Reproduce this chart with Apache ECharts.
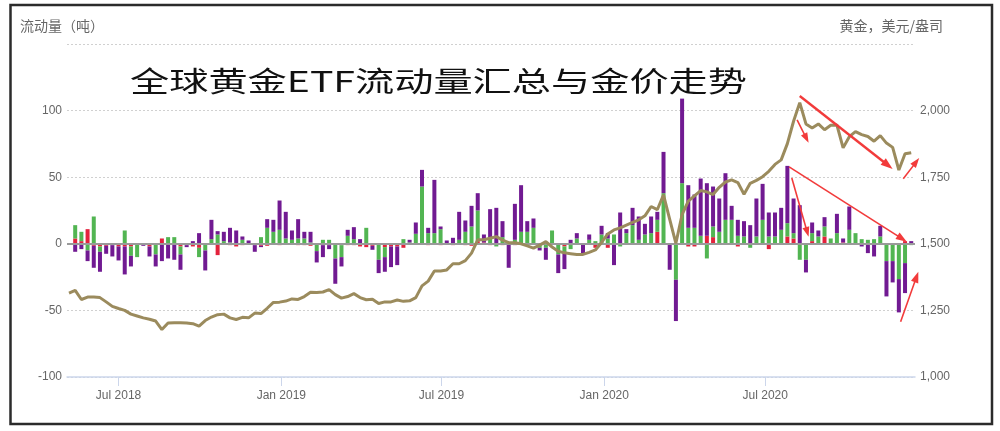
<!DOCTYPE html>
<html><head><meta charset="utf-8">
<script src="https://cdn.jsdelivr.net/npm/echarts@6/dist/echarts.min.js"></script>
<style>html,body{margin:0;padding:0;background:#fff}#c{width:1000px;height:431px}</style>
</head><body><div id="c"></div>
<script>
// ---------- data ----------
const firstWeek = '2018-05-06';      // first gold-price week; bars start one week later
const weekCount = 137;

// gold price, USD/oz (weekly)
const gold = [1315,1325,1291,1300,1300,1298,1282,1265,1257,1250,1236,1229,1222,1217,1210,1178,1203,1204,1204,1203,
  1200,1191,1212,1225,1234,1236,1222,1216,1224,1222,1240,1238,1258,1280,1281,1285,1293,1291,1302,1318,
  1317,1319,1328,1309,1296,1302,1313,1298,1290,1292,1276,1282,1282,1289,1284,1286,1298,1342,1360,1398,
  1398,1402,1425,1425,1437,1465,1515,1515,1521,1527,1514,1504,1504,1500,1492,1484,1495,1508,1488,1472,
  1466,1463,1460,1460,1468,1477,1505,1537,1552,1560,1570,1580,1590,1605,1640,1628,1684,1592,1502,1610,
  1660,1680,1700,1695,1685,1712,1732,1740,1730,1686,1727,1738,1752,1772,1798,1815,1876,1960,2030,1950,
  1935,1950,1928,1945,1946,1860,1902,1921,1910,1903,1885,1906,1878,1862,1777,1838,1842];

// ETF flows, tonnes (weekly, 136 weeks)
const flowPurple = [-6,-4,-8,-16.5,-15,-6,-8.5,-10.5,-21,-8,0.5,-1.5,-7.5,-9,-13,-11,-12,-11.5,-1.5,2,
  8,-15,14.5,2.5,7,11,10,2.5,2.5,-5,-1,6.5,9,22,20,7,14.5,5,8,-8.5,
  -9,-3,-19,-7,4.5,9,3.5,0,-3,-10,-11,-15.5,-14,0,2,8.5,12.5,4,40,2,
  2.5,4.5,21,8.5,15.5,13,6,21,27,12,-18,27,35,8,7,-2,-9,0,-14,-12,
  3,4,-7,4,0,6.5,4,-16,23.5,3,13,17.5,8,12.5,6,31,-19.5,-31,63.5,32,
  25,43,39.5,30,25,35,10.5,12,11.5,14,28.5,27,18,18,16.5,43,26,29,-9.5,8,
  4.5,7,0,14.5,3,17.5,0,-2,-7,-9.5,8,-26.5,-16,-25,-22.5,2];
const flowGreen = [10,7,-5,20.5,-4,0,0,0,10,-7,-10,0.5,0,-8,0,5,5,-6,0,0,
  -7,-5,3,7,2,1,0,3,0,0,5,12,9,10.5,4,3,4,4,1,-5.5,
  3,3,-11,-9,6,3.5,0,12,0,-12,-7.5,0,0,3.5,1,7.5,43,8,8,11,
  0,0,3,9,13,23,0,5,-2,5,0,3,9,9,12,-3,-3,10,-8,-5,
  -4,4,0,3,2,7,4,7,-2,8,14,3,7,8,9,38,0,-27,45.5,12,
  12,6,-11,8,9,18,18,6,5.5,-3,5.5,18,5.5,5.5,10.5,10,4,-12,-12,6,
  5.5,7.5,4,8,0,10.5,8,3.5,3,3.5,5.5,-13,-13,-26.5,-14.5,-1];
const flowRed = [4,2,11,-1.5,-2,-1.5,-1,-2,-2,-2,0,0,-2,0,4,0,0,-2,-1,-2,
  -3,0,0.5,-8.5,0,-1,-2,-1,0,-1,-1.5,-1.5,0,-1,0,0,-1,-1,-1.5,0,
  -1,-1,0,-1,-1,-1,-2,-2.5,-1.5,0,-2.5,-2,-2,-3,0,0,0,-1,0,-1,
  0,-1,0,-1,-1.5,2,1,-1,0,-1,0,-1,0,-1,0,0,0,0,0,-2,
  0,0,0,0,-3,0,-3,0,0,0,0,0,0,0,9,0,0,0,0,-2,
  -2,0,6,5,0,0,0,-2,0,0,0,0,-4,0,0,5.5,4,0,0,2,
  0,5.5,0,0,1,0,0,0,0,0,0,0,0,0,2,0];

// axis ticks
const monthNames = ['Jan','Feb','Mar','Apr','May','Jun','Jul','Aug','Sep','Oct','Nov','Dec'];

// annotation arrows [date, gold price]
const arrows = [
  {from:['2020-08-09',2055], to:['2020-11-22',1781], w:2.4, head:12},
  {from:['2020-08-06',1965], to:['2020-08-19',1879], w:1.6, head:10},
  {from:['2020-12-04',1744], to:['2020-12-22',1822], w:1.6, head:10},
  {from:['2020-07-28',1789], to:['2020-12-08',1508], w:1.6, head:11},
  {from:['2020-07-31',1747], to:['2020-08-19',1526], w:1.6, head:10},
  {from:['2020-12-01',1207], to:['2020-12-21',1395], w:1.6, head:11}
];

// ---------- build ----------
function toTime(s){const p=s.split('-').map(Number);return new Date(p[0],p[1]-1,p[2]).getTime();}
const DAY = 86400000;
const dates = [];
for (let k = 0; k < weekCount; k++) dates.push(toTime(firstWeek) + k*7*DAY);

const chart = echarts.init(document.getElementById('c'), null, {renderer:'canvas'});
const labelFont = 'Liberation Sans, Arial, sans-serif';
const cjk = '"Noto Sans CJK SC", sans-serif';

function barSeries(name, arr, color){
  return {
    name, type:'bar', stack:'flow', stackStrategy:'samesign', barWidth:4, xAxisIndex:0, yAxisIndex:0,
    itemStyle:{color}, data: arr.map((v,i)=>[dates[i+1], v]), silent:true
  };
}

const baseGraphics = [
  {type:'rect', shape:{x:10.5,y:5,width:981.5,height:419}, style:{fill:'none',stroke:'#2b2b2b',lineWidth:2.5}, z:100},
  {type:'text', x:20, y:26, style:{text:'流动量（吨）', fill:'#666', fontSize:14, fontFamily:cjk, verticalAlign:'middle', align:'left'}},
  {type:'text', x:943, y:26, style:{text:'黄金，美元/盎司', fill:'#666', fontSize:14, fontFamily:cjk, verticalAlign:'middle', align:'right'}},
  {type:'text', x:130, y:81, scaleX:1.4, style:{text:'全球黄金ETF流动量汇总与金价走势', fill:'#111', fontSize:28, fontFamily:cjk, verticalAlign:'middle', align:'left'}, z:50}
];

const option = {
  animation:false,
  backgroundColor:'#fff',
  grid:{left:67, right:85, top:44, bottom:54, containLabel:false, outerBoundsMode:'none'},
  xAxis:{
    type:'time', min:toTime('2018-05-06'), max:toTime('2020-12-15'),
    minInterval:175*DAY, maxInterval:186*DAY, splitNumber:5,
    axisLine:{show:true, onZero:false, lineStyle:{color:'#ccd6eb', width:1.5}},
    axisTick:{show:true, length:9, lineStyle:{color:'#ccd6eb'}},
    axisLabel:{show:true, color:'#666', fontSize:12, fontFamily:labelFont, margin:13,
      showMinLabel:false, showMaxLabel:false, hideOverlap:false,
      formatter:(v)=>{const d=new Date(v);return monthNames[d.getMonth()]+' '+d.getFullYear();}},
    splitLine:{show:false}
  },
  yAxis:[
    {type:'value', min:-100, max:150, interval:50,
      axisLine:{show:false}, axisTick:{show:false},
      axisLabel:{color:'#666', fontSize:12, fontFamily:labelFont, margin:5, formatter:(v)=> v===150 ? '' : String(v)},
      splitLine:{show:true, lineStyle:{color:'#d0d0d0', type:[2,2], width:1}}},
    {type:'value', min:1000, max:2250, interval:250, position:'right',
      axisLine:{show:false}, axisTick:{show:false},
      axisLabel:{color:'#666', fontSize:12, fontFamily:labelFont, margin:5, formatter:(v)=> v===2250 ? '' : v.toLocaleString('en-US')},
      splitLine:{show:false}}
  ],
  series:[
    barSeries('Asia', flowRed, '#e3223c'),
    barSeries('Europe', flowGreen, '#52b552'),
    Object.assign(barSeries('North America', flowPurple, '#711a92'), {
      markLine:{silent:true, symbol:['none','none'], label:{show:false},
        lineStyle:{color:'#9a9a9a', width:2, type:'solid'}, data:[{yAxis:0}]}
    }),
    {name:'Gold', type:'line', xAxisIndex:0, yAxisIndex:1, showSymbol:false, symbol:'none',
      lineStyle:{color:'#9b8b5d', width:3}, itemStyle:{color:'#9b8b5d'}, z:5, silent:true,
      data: gold.map((v,k)=>[dates[k], v])}
  ],
  graphic: baseGraphics
};
chart.setOption(option);

// arrows, positioned through the chart's own scales
const arrowEls = [];
arrows.forEach(a=>{
  const p1 = chart.convertToPixel({xAxisIndex:0, yAxisIndex:1}, [toTime(a.from[0]), a.from[1]]);
  const p2 = chart.convertToPixel({xAxisIndex:0, yAxisIndex:1}, [toTime(a.to[0]), a.to[1]]);
  const dx = p2[0]-p1[0], dy = p2[1]-p1[1], len = Math.hypot(dx,dy);
  const ux = dx/len, uy = dy/len, nx = -uy, ny = ux;
  const L = a.head, W = a.head*0.7;
  const bx = p2[0]-ux*L, by = p2[1]-uy*L;
  arrowEls.push({type:'line', shape:{x1:p1[0],y1:p1[1],x2:bx+ux*2,y2:by+uy*2}, style:{stroke:'#f23b3b', lineWidth:a.w}, z:60});
  arrowEls.push({type:'polygon', shape:{points:[[p2[0],p2[1]],[bx+nx*W/2,by+ny*W/2],[bx-nx*W/2,by-ny*W/2]]}, style:{fill:'#f23b3b'}, z:60});
});
chart.setOption({graphic: baseGraphics.concat(arrowEls)});
</script>
</body></html>
